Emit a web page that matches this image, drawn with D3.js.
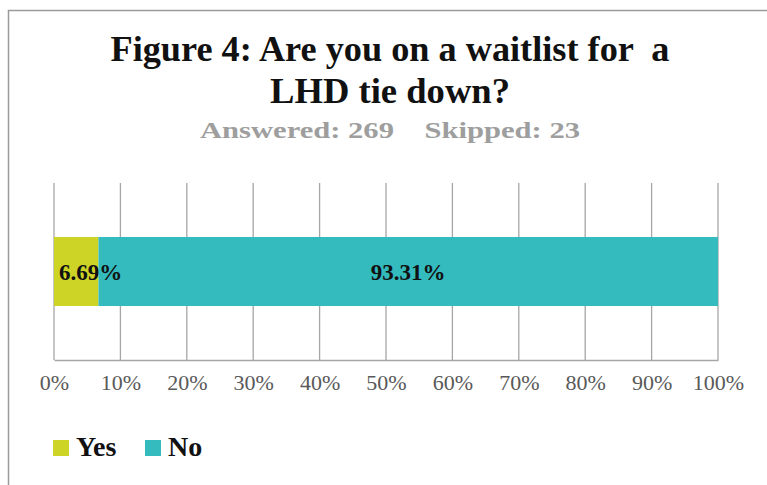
<!DOCTYPE html>
<html>
<head>
<meta charset="utf-8">
<script src="https://cdn.jsdelivr.net/npm/d3@7"></script>
<style>
  html, body { margin: 0; padding: 0; background: #fff; }
  svg { display: block; }
</style>
</head>
<body>
<svg id="chart" width="767" height="485"></svg>
<script>
// ---- data ----
const categories = ["Yes", "No"];
const values = [6.69, 93.31];
const colors = ["#CED426", "#33BBBE"];
const tickValues = [0, 10, 20, 30, 40, 50, 60, 70, 80, 90, 100];
const tickLabels = ["0%", "10%", "20%", "30%", "40%", "50%", "60%", "70%", "80%", "90%", "100%"];
const titleLines = ["Figure 4: Are you on a waitlist for  a", "LHD tie down?"];
const subtitle = "Answered: 269    Skipped: 23";
const rowName = ["Q"];

const svg = d3.select("#chart");
const serif = "'Liberation Serif', 'Times New Roman', serif";

// outer chart border: only top and left edges are visible
svg.append("path")
  .attr("d", "M8.5,485 L8.5,10.5 L767,10.5")
  .attr("fill", "none").attr("stroke", "#9a9a9a").attr("stroke-width", 1.5);

// title
const cx = 390;
const titleBase = [61, 103];
const titleWidths = [559, 240];
titleLines.forEach((t, i) => {
  svg.append("text")
    .attr("x", cx).attr("y", titleBase[i])
    .attr("text-anchor", "middle")
    .attr("font-family", serif).attr("font-weight", "bold").attr("font-size", 35)
    .attr("fill", "#111")
    .attr("textLength", titleWidths[i]).attr("lengthAdjust", "spacingAndGlyphs")
    .style("white-space", "pre")
    .text(t);
});
svg.append("text")
  .attr("x", cx).attr("y", 138)
  .attr("text-anchor", "middle")
  .attr("font-family", serif).attr("font-weight", "bold").attr("font-size", 24)
  .attr("fill", "#9e9e9e")
  .attr("textLength", 380).attr("lengthAdjust", "spacingAndGlyphs")
  .style("white-space", "pre")
  .text(subtitle);

// scales
const x = d3.scaleLinear().domain([0, 100]).range([54, 718]);
const y = d3.scaleBand().domain(rowName).range([183, 360]).paddingInner(0.61).paddingOuter(0.305);

// gridlines
svg.append("g").selectAll("line").data(tickValues).join("line")
  .attr("x1", d => x(d)).attr("x2", d => x(d))
  .attr("y1", 183).attr("y2", 360)
  .attr("stroke", "#a6a6a6").attr("stroke-width", 1.3);

// axis baseline + labels
const axis = d3.axisBottom(x).tickValues(tickValues)
  .tickFormat((d, i) => tickLabels[i]).tickSize(0).tickPadding(14);
const gAxis = svg.append("g").attr("transform", "translate(0,360)").call(axis);
gAxis.select(".domain").attr("stroke", "#a6a6a6").attr("stroke-width", 1.5);
gAxis.selectAll("text")
  .attr("font-family", serif).attr("font-size", 22).attr("fill", "#595959");

// stacked bar
let acc = 0;
const segs = values.map((v, i) => { const s = { cat: categories[i], v, x0: acc, x1: acc + v, c: colors[i] }; acc += v; return s; });
svg.append("g").selectAll("rect").data(segs).join("rect")
  .attr("x", d => x(d.x0)).attr("width", d => x(d.x1) - x(d.x0))
  .attr("y", y("Q")).attr("height", y.bandwidth())
  .attr("fill", d => d.c);

// data labels
svg.append("g").selectAll("text").data(segs).join("text")
  .attr("x", (d, i) => i === 0 ? x(d.x0) + 5 : (x(d.x0) + x(d.x1)) / 2)
  .attr("y", y("Q") + y.bandwidth() / 2 + 8)
  .attr("text-anchor", (d, i) => i === 0 ? "start" : "middle")
  .attr("font-family", serif).attr("font-weight", "bold").attr("font-size", 23)
  .attr("fill", "#111")
  .text(d => d.v.toFixed(2) + "%");

// legend
const legX = [53, 145];
const lg = svg.append("g").selectAll("g").data(segs).join("g")
  .attr("transform", (d, i) => `translate(${legX[i]},440)`);
lg.append("rect").attr("width", 16).attr("height", 16).attr("fill", d => d.c);
lg.append("text").attr("x", 23).attr("y", 16)
  .attr("font-family", serif).attr("font-weight", "bold").attr("font-size", 28)
  .attr("fill", "#111")
  .text(d => d.cat);
</script>
</body>
</html>
